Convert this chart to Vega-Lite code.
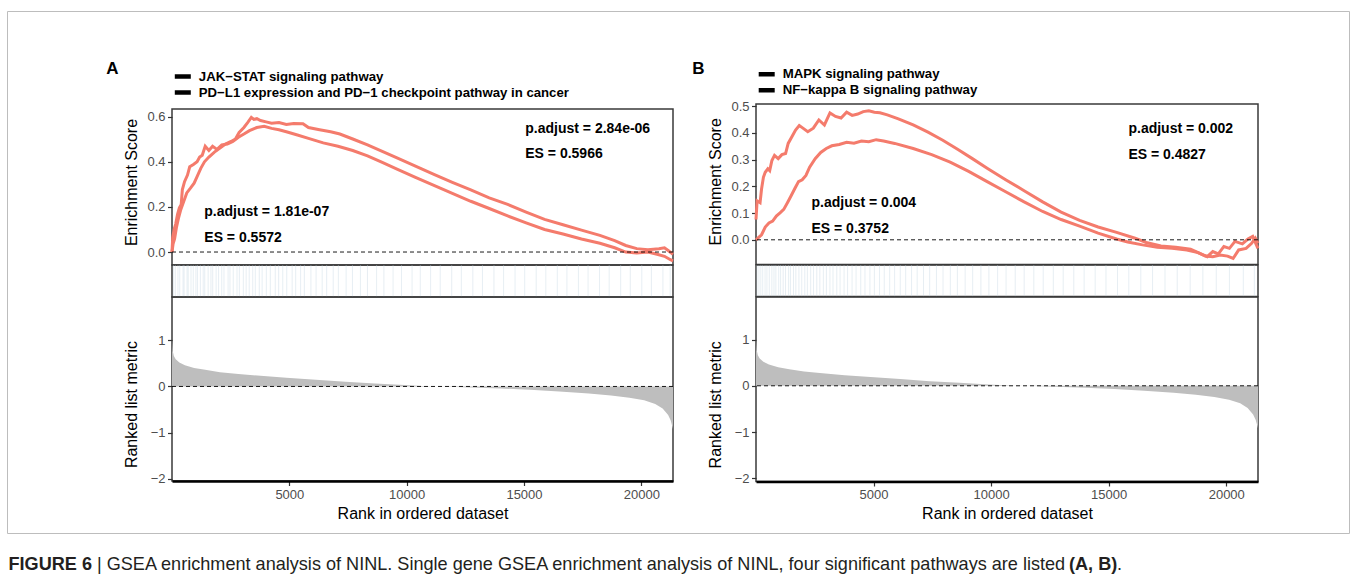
{
  "$schema": "https://vega.github.io/schema/vega-lite/v6.json",
  "background": "white",
  "padding": {"left": 6, "top": 10, "right": 6, "bottom": 4},
  "config": {
    "font": "Liberation Sans",
    "view": {"stroke": "#3a3a3a", "strokeWidth": 1.5},
    "axis": {
      "grid": false,
      "domain": false,
      "labelFont": "Liberation Sans",
      "labelFontSize": 13,
      "labelColor": "#4D4D4D",
      "labelOverlap": false,
      "titleFont": "Liberation Sans",
      "titleFontSize": 16,
      "titleFontWeight": "normal",
      "titleColor": "#000000",
      "tickColor": "#333333",
      "tickSize": 4.5,
      "tickWidth": 1.2,
      "labelPadding": 2.5
    },
    "legend": {
      "orient": "none",
      "title": null,
      "symbolType": "M-1.7,0H1.7",
      "symbolSize": 100,
      "symbolStrokeWidth": 4.5,
      "symbolStrokeColor": "#000000",
      "labelFont": "Liberation Sans",
      "labelFontSize": 13.2,
      "labelFontWeight": "bold",
      "labelColor": "#000000",
      "labelOffset": 9,
      "labelLimit": 600,
      "clipHeight": 15.5,
      "rowPadding": 0,
      "padding": 0
    }
  },
  "datasets": {
    "esA": [
      {"rank":0,"es":0,"set":"JAK−STAT signaling pathway"},{"rank":47,"es":0.036,"set":"JAK−STAT signaling pathway"},{"rank":110,"es":0.058,"set":"JAK−STAT signaling pathway"},{"rank":189,"es":0.109,"set":"JAK−STAT signaling pathway"},{"rank":283,"es":0.153,"set":"JAK−STAT signaling pathway"},{"rank":377,"es":0.189,"set":"JAK−STAT signaling pathway"},{"rank":503,"es":0.225,"set":"JAK−STAT signaling pathway"},{"rank":629,"es":0.262,"set":"JAK−STAT signaling pathway"},{"rank":786,"es":0.283,"set":"JAK−STAT signaling pathway"},{"rank":943,"es":0.305,"set":"JAK−STAT signaling pathway"},{"rank":1069,"es":0.334,"set":"JAK−STAT signaling pathway"},{"rank":1226,"es":0.371,"set":"JAK−STAT signaling pathway"},{"rank":1383,"es":0.4,"set":"JAK−STAT signaling pathway"},{"rank":1572,"es":0.421,"set":"JAK−STAT signaling pathway"},{"rank":1808,"es":0.443,"set":"JAK−STAT signaling pathway"},{"rank":2044,"es":0.461,"set":"JAK−STAT signaling pathway"},{"rank":2279,"es":0.479,"set":"JAK−STAT signaling pathway"},{"rank":2515,"es":0.49,"set":"JAK−STAT signaling pathway"},{"rank":2704,"es":0.501,"set":"JAK−STAT signaling pathway"},{"rank":2861,"es":0.53,"set":"JAK−STAT signaling pathway"},{"rank":3065,"es":0.552,"set":"JAK−STAT signaling pathway"},{"rank":3223,"es":0.574,"set":"JAK−STAT signaling pathway"},{"rank":3380,"es":0.597,"set":"JAK−STAT signaling pathway"},{"rank":3490,"es":0.588,"set":"JAK−STAT signaling pathway"},{"rank":3616,"es":0.591,"set":"JAK−STAT signaling pathway"},{"rank":3773,"es":0.583,"set":"JAK−STAT signaling pathway"},{"rank":4009,"es":0.577,"set":"JAK−STAT signaling pathway"},{"rank":4244,"es":0.571,"set":"JAK−STAT signaling pathway"},{"rank":4559,"es":0.574,"set":"JAK−STAT signaling pathway"},{"rank":4873,"es":0.565,"set":"JAK−STAT signaling pathway"},{"rank":5188,"es":0.57,"set":"JAK−STAT signaling pathway"},{"rank":5581,"es":0.569,"set":"JAK−STAT signaling pathway"},{"rank":5816,"es":0.552,"set":"JAK−STAT signaling pathway"},{"rank":6288,"es":0.542,"set":"JAK−STAT signaling pathway"},{"rank":6760,"es":0.533,"set":"JAK−STAT signaling pathway"},{"rank":7153,"es":0.523,"set":"JAK−STAT signaling pathway"},{"rank":7703,"es":0.501,"set":"JAK−STAT signaling pathway"},{"rank":8332,"es":0.475,"set":"JAK−STAT signaling pathway"},{"rank":8960,"es":0.446,"set":"JAK−STAT signaling pathway"},{"rank":9589,"es":0.417,"set":"JAK−STAT signaling pathway"},{"rank":10375,"es":0.381,"set":"JAK−STAT signaling pathway"},{"rank":11161,"es":0.344,"set":"JAK−STAT signaling pathway"},{"rank":11947,"es":0.309,"set":"JAK−STAT signaling pathway"},{"rank":12733,"es":0.275,"set":"JAK−STAT signaling pathway"},{"rank":13519,"es":0.24,"set":"JAK−STAT signaling pathway"},{"rank":14305,"es":0.211,"set":"JAK−STAT signaling pathway"},{"rank":15091,"es":0.177,"set":"JAK−STAT signaling pathway"},{"rank":15877,"es":0.145,"set":"JAK−STAT signaling pathway"},{"rank":16663,"es":0.121,"set":"JAK−STAT signaling pathway"},{"rank":17449,"es":0.097,"set":"JAK−STAT signaling pathway"},{"rank":18235,"es":0.074,"set":"JAK−STAT signaling pathway"},{"rank":18864,"es":0.051,"set":"JAK−STAT signaling pathway"},{"rank":19336,"es":0.029,"set":"JAK−STAT signaling pathway"},{"rank":19807,"es":0.015,"set":"JAK−STAT signaling pathway"},{"rank":20279,"es":0.01,"set":"JAK−STAT signaling pathway"},{"rank":20750,"es":0.015,"set":"JAK−STAT signaling pathway"},{"rank":20986,"es":0.019,"set":"JAK−STAT signaling pathway"},{"rank":21143,"es":0.007,"set":"JAK−STAT signaling pathway"},{"rank":21350,"es":-0.01,"set":"JAK−STAT signaling pathway"},
      {"rank":0,"es":0,"set":"PD−L1 expression and PD−1 checkpoint pathway in cancer"},{"rank":31,"es":0.065,"set":"PD−L1 expression and PD−1 checkpoint pathway in cancer"},{"rank":94,"es":0.102,"set":"PD−L1 expression and PD−1 checkpoint pathway in cancer"},{"rank":157,"es":0.124,"set":"PD−L1 expression and PD−1 checkpoint pathway in cancer"},{"rank":236,"es":0.167,"set":"PD−L1 expression and PD−1 checkpoint pathway in cancer"},{"rank":314,"es":0.196,"set":"PD−L1 expression and PD−1 checkpoint pathway in cancer"},{"rank":393,"es":0.211,"set":"PD−L1 expression and PD−1 checkpoint pathway in cancer"},{"rank":440,"es":0.276,"set":"PD−L1 expression and PD−1 checkpoint pathway in cancer"},{"rank":534,"es":0.312,"set":"PD−L1 expression and PD−1 checkpoint pathway in cancer"},{"rank":660,"es":0.341,"set":"PD−L1 expression and PD−1 checkpoint pathway in cancer"},{"rank":755,"es":0.378,"set":"PD−L1 expression and PD−1 checkpoint pathway in cancer"},{"rank":912,"es":0.388,"set":"PD−L1 expression and PD−1 checkpoint pathway in cancer"},{"rank":1069,"es":0.4,"set":"PD−L1 expression and PD−1 checkpoint pathway in cancer"},{"rank":1179,"es":0.421,"set":"PD−L1 expression and PD−1 checkpoint pathway in cancer"},{"rank":1289,"es":0.429,"set":"PD−L1 expression and PD−1 checkpoint pathway in cancer"},{"rank":1415,"es":0.469,"set":"PD−L1 expression and PD−1 checkpoint pathway in cancer"},{"rank":1572,"es":0.45,"set":"PD−L1 expression and PD−1 checkpoint pathway in cancer"},{"rank":1729,"es":0.469,"set":"PD−L1 expression and PD−1 checkpoint pathway in cancer"},{"rank":1918,"es":0.455,"set":"PD−L1 expression and PD−1 checkpoint pathway in cancer"},{"rank":2122,"es":0.475,"set":"PD−L1 expression and PD−1 checkpoint pathway in cancer"},{"rank":2358,"es":0.479,"set":"PD−L1 expression and PD−1 checkpoint pathway in cancer"},{"rank":2594,"es":0.49,"set":"PD−L1 expression and PD−1 checkpoint pathway in cancer"},{"rank":2830,"es":0.509,"set":"PD−L1 expression and PD−1 checkpoint pathway in cancer"},{"rank":3065,"es":0.523,"set":"PD−L1 expression and PD−1 checkpoint pathway in cancer"},{"rank":3301,"es":0.538,"set":"PD−L1 expression and PD−1 checkpoint pathway in cancer"},{"rank":3616,"es":0.552,"set":"PD−L1 expression and PD−1 checkpoint pathway in cancer"},{"rank":3930,"es":0.557,"set":"PD−L1 expression and PD−1 checkpoint pathway in cancer"},{"rank":4244,"es":0.548,"set":"PD−L1 expression and PD−1 checkpoint pathway in cancer"},{"rank":4559,"es":0.542,"set":"PD−L1 expression and PD−1 checkpoint pathway in cancer"},{"rank":4873,"es":0.533,"set":"PD−L1 expression and PD−1 checkpoint pathway in cancer"},{"rank":5345,"es":0.519,"set":"PD−L1 expression and PD−1 checkpoint pathway in cancer"},{"rank":5816,"es":0.504,"set":"PD−L1 expression and PD−1 checkpoint pathway in cancer"},{"rank":6445,"es":0.484,"set":"PD−L1 expression and PD−1 checkpoint pathway in cancer"},{"rank":7074,"es":0.469,"set":"PD−L1 expression and PD−1 checkpoint pathway in cancer"},{"rank":7703,"es":0.45,"set":"PD−L1 expression and PD−1 checkpoint pathway in cancer"},{"rank":8332,"es":0.426,"set":"PD−L1 expression and PD−1 checkpoint pathway in cancer"},{"rank":8960,"es":0.397,"set":"PD−L1 expression and PD−1 checkpoint pathway in cancer"},{"rank":9589,"es":0.368,"set":"PD−L1 expression and PD−1 checkpoint pathway in cancer"},{"rank":10375,"es":0.331,"set":"PD−L1 expression and PD−1 checkpoint pathway in cancer"},{"rank":11161,"es":0.295,"set":"PD−L1 expression and PD−1 checkpoint pathway in cancer"},{"rank":11947,"es":0.26,"set":"PD−L1 expression and PD−1 checkpoint pathway in cancer"},{"rank":12733,"es":0.225,"set":"PD−L1 expression and PD−1 checkpoint pathway in cancer"},{"rank":13519,"es":0.193,"set":"PD−L1 expression and PD−1 checkpoint pathway in cancer"},{"rank":14305,"es":0.16,"set":"PD−L1 expression and PD−1 checkpoint pathway in cancer"},{"rank":15091,"es":0.129,"set":"PD−L1 expression and PD−1 checkpoint pathway in cancer"},{"rank":15877,"es":0.1,"set":"PD−L1 expression and PD−1 checkpoint pathway in cancer"},{"rank":16663,"es":0.08,"set":"PD−L1 expression and PD−1 checkpoint pathway in cancer"},{"rank":17449,"es":0.058,"set":"PD−L1 expression and PD−1 checkpoint pathway in cancer"},{"rank":18235,"es":0.039,"set":"PD−L1 expression and PD−1 checkpoint pathway in cancer"},{"rank":18864,"es":0.019,"set":"PD−L1 expression and PD−1 checkpoint pathway in cancer"},{"rank":19336,"es":0.0,"set":"PD−L1 expression and PD−1 checkpoint pathway in cancer"},{"rank":19807,"es":-0.004,"set":"PD−L1 expression and PD−1 checkpoint pathway in cancer"},{"rank":20279,"es":0.0,"set":"PD−L1 expression and PD−1 checkpoint pathway in cancer"},{"rank":20672,"es":-0.01,"set":"PD−L1 expression and PD−1 checkpoint pathway in cancer"},{"rank":20986,"es":-0.019,"set":"PD−L1 expression and PD−1 checkpoint pathway in cancer"},{"rank":21222,"es":-0.033,"set":"PD−L1 expression and PD−1 checkpoint pathway in cancer"},{"rank":21350,"es":-0.039,"set":"PD−L1 expression and PD−1 checkpoint pathway in cancer"}
    ],
    "esB": [
      {"rank":0,"es":0.076,"set":"MAPK signaling pathway"},{"rank":47,"es":0.146,"set":"MAPK signaling pathway"},{"rank":173,"es":0.139,"set":"MAPK signaling pathway"},{"rank":236,"es":0.19,"set":"MAPK signaling pathway"},{"rank":315,"es":0.234,"set":"MAPK signaling pathway"},{"rank":393,"es":0.253,"set":"MAPK signaling pathway"},{"rank":503,"es":0.266,"set":"MAPK signaling pathway"},{"rank":582,"es":0.259,"set":"MAPK signaling pathway"},{"rank":676,"es":0.297,"set":"MAPK signaling pathway"},{"rank":787,"es":0.316,"set":"MAPK signaling pathway"},{"rank":944,"es":0.304,"set":"MAPK signaling pathway"},{"rank":1101,"es":0.319,"set":"MAPK signaling pathway"},{"rank":1258,"es":0.323,"set":"MAPK signaling pathway"},{"rank":1369,"es":0.361,"set":"MAPK signaling pathway"},{"rank":1526,"es":0.386,"set":"MAPK signaling pathway"},{"rank":1683,"es":0.411,"set":"MAPK signaling pathway"},{"rank":1840,"es":0.428,"set":"MAPK signaling pathway"},{"rank":1966,"es":0.42,"set":"MAPK signaling pathway"},{"rank":2202,"es":0.405,"set":"MAPK signaling pathway"},{"rank":2438,"es":0.418,"set":"MAPK signaling pathway"},{"rank":2674,"es":0.449,"set":"MAPK signaling pathway"},{"rank":2910,"es":0.43,"set":"MAPK signaling pathway"},{"rank":3146,"es":0.475,"set":"MAPK signaling pathway"},{"rank":3382,"es":0.462,"set":"MAPK signaling pathway"},{"rank":3618,"es":0.456,"set":"MAPK signaling pathway"},{"rank":3854,"es":0.478,"set":"MAPK signaling pathway"},{"rank":4090,"es":0.466,"set":"MAPK signaling pathway"},{"rank":4326,"es":0.471,"set":"MAPK signaling pathway"},{"rank":4562,"es":0.48,"set":"MAPK signaling pathway"},{"rank":4798,"es":0.483,"set":"MAPK signaling pathway"},{"rank":5034,"es":0.478,"set":"MAPK signaling pathway"},{"rank":5270,"es":0.476,"set":"MAPK signaling pathway"},{"rank":5584,"es":0.468,"set":"MAPK signaling pathway"},{"rank":6056,"es":0.453,"set":"MAPK signaling pathway"},{"rank":6685,"es":0.43,"set":"MAPK signaling pathway"},{"rank":7315,"es":0.403,"set":"MAPK signaling pathway"},{"rank":7944,"es":0.373,"set":"MAPK signaling pathway"},{"rank":8573,"es":0.339,"set":"MAPK signaling pathway"},{"rank":9202,"es":0.304,"set":"MAPK signaling pathway"},{"rank":9831,"es":0.268,"set":"MAPK signaling pathway"},{"rank":10618,"es":0.225,"set":"MAPK signaling pathway"},{"rank":11404,"es":0.184,"set":"MAPK signaling pathway"},{"rank":12191,"es":0.142,"set":"MAPK signaling pathway"},{"rank":12977,"es":0.104,"set":"MAPK signaling pathway"},{"rank":13764,"es":0.073,"set":"MAPK signaling pathway"},{"rank":14550,"es":0.048,"set":"MAPK signaling pathway"},{"rank":15337,"es":0.028,"set":"MAPK signaling pathway"},{"rank":16123,"es":0.006,"set":"MAPK signaling pathway"},{"rank":16595,"es":-0.01,"set":"MAPK signaling pathway"},{"rank":17224,"es":-0.023,"set":"MAPK signaling pathway"},{"rank":17854,"es":-0.028,"set":"MAPK signaling pathway"},{"rank":18483,"es":-0.035,"set":"MAPK signaling pathway"},{"rank":18876,"es":-0.051,"set":"MAPK signaling pathway"},{"rank":19191,"es":-0.063,"set":"MAPK signaling pathway"},{"rank":19427,"es":-0.044,"set":"MAPK signaling pathway"},{"rank":19663,"es":-0.053,"set":"MAPK signaling pathway"},{"rank":19899,"es":-0.025,"set":"MAPK signaling pathway"},{"rank":20135,"es":-0.032,"set":"MAPK signaling pathway"},{"rank":20370,"es":-0.006,"set":"MAPK signaling pathway"},{"rank":20685,"es":-0.015,"set":"MAPK signaling pathway"},{"rank":20921,"es":0.003,"set":"MAPK signaling pathway"},{"rank":21126,"es":0.013,"set":"MAPK signaling pathway"},{"rank":21346,"es":-0.032,"set":"MAPK signaling pathway"},
      {"rank":0,"es":0,"set":"NF−kappa B signaling pathway"},{"rank":79,"es":0.006,"set":"NF−kappa B signaling pathway"},{"rank":236,"es":0.019,"set":"NF−kappa B signaling pathway"},{"rank":393,"es":0.048,"set":"NF−kappa B signaling pathway"},{"rank":551,"es":0.063,"set":"NF−kappa B signaling pathway"},{"rank":708,"es":0.07,"set":"NF−kappa B signaling pathway"},{"rank":865,"es":0.089,"set":"NF−kappa B signaling pathway"},{"rank":1022,"es":0.101,"set":"NF−kappa B signaling pathway"},{"rank":1180,"es":0.114,"set":"NF−kappa B signaling pathway"},{"rank":1337,"es":0.139,"set":"NF−kappa B signaling pathway"},{"rank":1494,"es":0.165,"set":"NF−kappa B signaling pathway"},{"rank":1652,"es":0.192,"set":"NF−kappa B signaling pathway"},{"rank":1809,"es":0.218,"set":"NF−kappa B signaling pathway"},{"rank":1966,"es":0.225,"set":"NF−kappa B signaling pathway"},{"rank":2124,"es":0.241,"set":"NF−kappa B signaling pathway"},{"rank":2281,"es":0.272,"set":"NF−kappa B signaling pathway"},{"rank":2517,"es":0.304,"set":"NF−kappa B signaling pathway"},{"rank":2753,"es":0.327,"set":"NF−kappa B signaling pathway"},{"rank":2989,"es":0.342,"set":"NF−kappa B signaling pathway"},{"rank":3225,"es":0.352,"set":"NF−kappa B signaling pathway"},{"rank":3539,"es":0.357,"set":"NF−kappa B signaling pathway"},{"rank":3854,"es":0.365,"set":"NF−kappa B signaling pathway"},{"rank":4168,"es":0.362,"set":"NF−kappa B signaling pathway"},{"rank":4483,"es":0.37,"set":"NF−kappa B signaling pathway"},{"rank":4798,"es":0.367,"set":"NF−kappa B signaling pathway"},{"rank":5112,"es":0.375,"set":"NF−kappa B signaling pathway"},{"rank":5427,"es":0.37,"set":"NF−kappa B signaling pathway"},{"rank":5899,"es":0.361,"set":"NF−kappa B signaling pathway"},{"rank":6685,"es":0.342,"set":"NF−kappa B signaling pathway"},{"rank":7472,"es":0.319,"set":"NF−kappa B signaling pathway"},{"rank":8258,"es":0.291,"set":"NF−kappa B signaling pathway"},{"rank":9045,"es":0.256,"set":"NF−kappa B signaling pathway"},{"rank":9831,"es":0.218,"set":"NF−kappa B signaling pathway"},{"rank":10618,"es":0.18,"set":"NF−kappa B signaling pathway"},{"rank":11404,"es":0.142,"set":"NF−kappa B signaling pathway"},{"rank":12191,"es":0.106,"set":"NF−kappa B signaling pathway"},{"rank":12977,"es":0.076,"set":"NF−kappa B signaling pathway"},{"rank":13764,"es":0.051,"set":"NF−kappa B signaling pathway"},{"rank":14550,"es":0.025,"set":"NF−kappa B signaling pathway"},{"rank":15337,"es":0.003,"set":"NF−kappa B signaling pathway"},{"rank":15809,"es":-0.008,"set":"NF−kappa B signaling pathway"},{"rank":16438,"es":-0.019,"set":"NF−kappa B signaling pathway"},{"rank":17067,"es":-0.028,"set":"NF−kappa B signaling pathway"},{"rank":17696,"es":-0.032,"set":"NF−kappa B signaling pathway"},{"rank":18325,"es":-0.038,"set":"NF−kappa B signaling pathway"},{"rank":18797,"es":-0.048,"set":"NF−kappa B signaling pathway"},{"rank":19112,"es":-0.061,"set":"NF−kappa B signaling pathway"},{"rank":19427,"es":-0.063,"set":"NF−kappa B signaling pathway"},{"rank":19742,"es":-0.057,"set":"NF−kappa B signaling pathway"},{"rank":20056,"es":-0.061,"set":"NF−kappa B signaling pathway"},{"rank":20292,"es":-0.07,"set":"NF−kappa B signaling pathway"},{"rank":20528,"es":-0.038,"set":"NF−kappa B signaling pathway"},{"rank":20843,"es":-0.032,"set":"NF−kappa B signaling pathway"},{"rank":21079,"es":-0.013,"set":"NF−kappa B signaling pathway"},{"rank":21236,"es":0.006,"set":"NF−kappa B signaling pathway"},{"rank":21346,"es":-0.013,"set":"NF−kappa B signaling pathway"}
    ],
    "annA": [
      {"rank":15054,"es":0.547,"label":"p.adjust = 2.84e-06"},
      {"rank":15054,"es":0.434,"label":"ES = 0.5966"},
      {"rank":1376,"es":0.178,"label":"p.adjust = 1.81e-07"},
      {"rank":1376,"es":0.062,"label":"ES = 0.5572"}
    ],
    "annB": [
      {"rank":15840,"es":0.415,"label":"p.adjust = 0.002"},
      {"rank":15840,"es":0.318,"label":"ES = 0.4827"},
      {"rank":2359,"es":0.139,"label":"p.adjust = 0.004"},
      {"rank":2359,"es":0.041,"label":"ES = 0.3752"}
    ],
    "hitsA": [
      {"rank":60},{"rank":140},{"rank":255},{"rank":330},{"rank":470},{"rank":515},{"rank":640},{"rank":690},{"rank":810},{"rank":905},{"rank":1020},{"rank":1085},{"rank":1210},{"rank":1330},{"rank":1395},{"rank":1540},{"rank":1660},{"rank":1735},{"rank":1880},{"rank":1985},{"rank":2120},{"rank":2215},{"rank":2390},{"rank":2470},{"rank":2610},{"rank":2770},{"rank":2870},{"rank":3040},{"rank":3160},{"rank":3290},{"rank":3440},{"rank":3550},{"rank":3720},{"rank":3840},{"rank":4020},{"rank":4190},{"rank":4400},{"rank":4545},{"rank":4720},{"rank":4890},{"rank":5120},{"rank":5270},{"rank":5480},{"rank":5640},{"rank":5920},{"rank":6140},{"rank":6400},{"rank":6590},{"rank":6870},{"rank":7090},{"rank":7420},{"rank":7690},{"rank":8030},{"rank":8330},{"rank":8720},{"rank":9030},{"rank":9420},{"rank":9780},{"rank":10230},{"rank":10580},{"rank":11020},{"rank":11430},{"rank":11920},{"rank":12330},{"rank":12820},{"rank":13230},{"rank":13720},{"rank":14130},{"rank":14620},{"rank":15030},{"rank":15520},{"rank":15930},{"rank":16420},{"rank":16830},{"rank":17320},{"rank":17730},{"rank":18220},{"rank":18630},{"rank":19120},{"rank":19530},{"rank":20020},{"rank":20430},{"rank":20920},{"rank":21230}
    ],
    "hitsB": [
      {"rank":40},{"rank":125},{"rank":205},{"rank":285},{"rank":385},{"rank":465},{"rank":565},{"rank":675},{"rank":765},{"rank":845},{"rank":965},{"rank":1045},{"rank":1155},{"rank":1255},{"rank":1385},{"rank":1465},{"rank":1595},{"rank":1695},{"rank":1825},{"rank":1945},{"rank":2075},{"rank":2185},{"rank":2325},{"rank":2445},{"rank":2585},{"rank":2715},{"rank":2865},{"rank":2995},{"rank":3145},{"rank":3275},{"rank":3435},{"rank":3575},{"rank":3745},{"rank":3895},{"rank":4085},{"rank":4255},{"rank":4455},{"rank":4635},{"rank":4845},{"rank":5035},{"rank":5255},{"rank":5455},{"rank":5685},{"rank":5895},{"rank":6135},{"rank":6365},{"rank":6615},{"rank":6855},{"rank":7125},{"rank":7385},{"rank":7675},{"rank":7955},{"rank":8265},{"rank":8565},{"rank":8895},{"rank":9215},{"rank":9565},{"rank":9905},{"rank":10275},{"rank":10635},{"rank":11025},{"rank":11405},{"rank":11815},{"rank":12215},{"rank":12645},{"rank":13065},{"rank":13515},{"rank":13955},{"rank":14425},{"rank":14885},{"rank":15375},{"rank":15855},{"rank":16365},{"rank":16865},{"rank":17395},{"rank":17915},{"rank":18465},{"rank":19005},{"rank":19575},{"rank":20135},{"rank":20725},{"rank":21195}
    ],
    "ranked": [
      {"rank":0,"metric":1.0},{"rank":31,"metric":0.77},{"rank":79,"metric":0.66},{"rank":157,"metric":0.59},{"rank":314,"metric":0.52},{"rank":550,"metric":0.46},{"rank":943,"metric":0.4},{"rank":1415,"metric":0.36},{"rank":2044,"metric":0.31},{"rank":2830,"metric":0.27},{"rank":3773,"metric":0.23},{"rank":4873,"metric":0.19},{"rank":6131,"metric":0.145},{"rank":7388,"metric":0.1},{"rank":8646,"metric":0.065},{"rank":9904,"metric":0.03},{"rank":10847,"metric":0.007},{"rank":11790,"metric":-0.007},{"rank":12733,"metric":-0.02},{"rank":13991,"metric":-0.045},{"rank":15248,"metric":-0.07},{"rank":16506,"metric":-0.11},{"rank":17764,"metric":-0.15},{"rank":18707,"metric":-0.195},{"rank":19493,"metric":-0.245},{"rank":20122,"metric":-0.3},{"rank":20593,"metric":-0.38},{"rank":20908,"metric":-0.48},{"rank":21143,"metric":-0.62},{"rank":21253,"metric":-0.74},{"rank":21350,"metric":-0.92}
    ]
  },
  "bounds": "flush",
  "spacing": 545.5,
  "resolve": {"scale": {"stroke": "independent"}, "legend": {"stroke": "independent"}},
  "vconcat": [
    {
      "bounds": "flush",
      "spacing": 0,
      "resolve": {"scale": {"stroke": "independent"}, "legend": {"stroke": "independent"}},
      "hconcat": [
        {
          "bounds": "flush",
          "spacing": 0,
          "resolve": {"scale": {"stroke": "independent"}, "legend": {"stroke": "independent"}},
          "hconcat": [
            {"width": 164.2, "height": 1, "view": {"stroke": null}, "data": {"values": []}, "mark": "point"},
            {
              "bounds": "flush",
              "spacing": 0,
              "resolve": {"scale": {"stroke": "independent"}, "legend": {"stroke": "independent"}},
              "vconcat": [
                {"width": 501, "height": 97.5, "view": {"stroke": null}, "data": {"values": []}, "mark": "point"},
                {
                  "width": 501,
                  "height": 156,
                  "layer": [
                    {
                      "data": {"name": "esA"},
                      "mark": {"type": "line", "strokeWidth": 3, "color": "#F47B6C"},
                      "encoding": {
                        "x": {"field": "rank", "type": "quantitative", "scale": {"domain": [0, 21350], "nice": false, "zero": false}, "axis": null},
                        "y": {"field": "es", "type": "quantitative", "scale": {"domain": [-0.0575, 0.634], "nice": false, "zero": false}, "axis": {"values": [0, 0.2, 0.4, 0.6], "tickCount": 4, "format": ".1f", "title": "Enrichment Score", "titleX": -33, "titleY": 73}},
                        "detail": {"field": "set", "type": "nominal"}
                      }
                    },
                    {
                      "data": {"values": []},
                      "mark": {"type": "line", "strokeWidth": 4.5},
                      "encoding": {
                        "x": {"field": "rank", "type": "quantitative", "axis": null},
                        "y": {"field": "es", "type": "quantitative", "axis": {"values": [0, 0.2, 0.4, 0.6], "tickCount": 4, "format": ".1f", "title": "Enrichment Score", "titleX": -33, "titleY": 73}},
                        "stroke": {
                          "field": "set", "type": "nominal",
                          "scale": {"domain": ["JAK−STAT signaling pathway", "PD−L1 expression and PD−1 checkpoint pathway in cancer"], "range": ["#000000", "#000000"]},
                          "legend": {"orient": "none", "legendX": 2.8, "legendY": -40.25, "title": null}
                        }
                      }
                    },
                    {
                      "data": {"values": [{}]},
                      "mark": {"type": "rule", "strokeDash": [4, 3], "color": "#000000", "strokeWidth": 0.9},
                      "encoding": {"y": {"datum": 0}}
                    },
                    {
                      "data": {"name": "annA"},
                      "mark": {"type": "text", "align": "left", "baseline": "middle", "fontSize": 14, "fontWeight": "bold", "color": "#000000"},
                      "encoding": {
                        "x": {"field": "rank", "type": "quantitative", "axis": null},
                        "y": {"field": "es", "type": "quantitative", "axis": {"values": [0, 0.2, 0.4, 0.6], "tickCount": 4, "format": ".1f", "title": "Enrichment Score", "titleX": -33, "titleY": 73}},
                        "text": {"field": "label"}
                      }
                    },
                    {
                      "data": {"values": [{"rank": -2800, "es": 0.79, "label": "A"}]},
                      "mark": {"type": "text", "align": "left", "baseline": "alphabetic", "fontSize": 17, "fontWeight": "bold", "color": "#000000"},
                      "encoding": {
                        "x": {"field": "rank", "type": "quantitative", "axis": null},
                        "y": {"field": "es", "type": "quantitative", "axis": {"values": [0, 0.2, 0.4, 0.6], "tickCount": 4, "format": ".1f", "title": "Enrichment Score", "titleX": -33, "titleY": 73}},
                        "text": {"field": "label"}
                      }
                    }
                  ]
                },
                {
                  "width": 501,
                  "height": 32,
                  "data": {"name": "hitsA"},
                  "mark": {"type": "rule", "color": "#BFD3E0", "strokeWidth": 1, "opacity": 0.38},
                  "encoding": {"x": {"field": "rank", "type": "quantitative", "scale": {"domain": [0, 21350], "nice": false, "zero": false}, "axis": null}}
                },
                {
                  "width": 501,
                  "height": 184,
                  "layer": [
                    {
                      "data": {"name": "ranked"},
                      "mark": {"type": "area", "color": "#BEBEBE"},
                      "encoding": {
                        "x": {"field": "rank", "type": "quantitative", "scale": {"domain": [0, 21350], "nice": false, "zero": false}, "axis": {"values": [5000, 10000, 15000, 20000], "format": "d", "title": "Rank in ordered dataset", "domain": true, "domainColor": "#000000", "domainWidth": 2.5, "titleY": 24}},
                        "y": {"field": "metric", "type": "quantitative", "stack": null, "scale": {"domain": [-2.05, 1.94], "nice": false, "zero": false}, "axis": {"values": [-2, -1, 0, 1], "format": "d", "title": "Ranked list metric", "titleX": -33, "titleY": 107}}
                      }
                    },
                    {
                      "data": {"values": [{}]},
                      "mark": {"type": "rule", "strokeDash": [4, 3], "color": "#000000", "strokeWidth": 0.9},
                      "encoding": {"y": {"datum": 0}}
                    }
                  ]
                }
              ]
            },
            {"width": 583.6, "height": 1, "view": {"stroke": null}, "data": {"values": []}, "mark": "point"},
            {
              "bounds": "flush",
              "spacing": 0,
              "resolve": {"scale": {"stroke": "independent"}, "legend": {"stroke": "independent"}},
              "vconcat": [
                {"width": 502, "height": 92.2, "view": {"stroke": null}, "data": {"values": []}, "mark": "point"},
                {
                  "width": 502,
                  "height": 160.5,
                  "layer": [
                    {
                      "data": {"name": "esB"},
                      "mark": {"type": "line", "strokeWidth": 3, "color": "#F47B6C"},
                      "encoding": {
                        "x": {"field": "rank", "type": "quantitative", "scale": {"domain": [0, 21350], "nice": false, "zero": false}, "axis": null},
                        "y": {"field": "es", "type": "quantitative", "scale": {"domain": [-0.0925, 0.5086], "nice": false, "zero": false}, "axis": {"values": [0, 0.1, 0.2, 0.3, 0.4, 0.5], "tickCount": 6, "format": ".1f", "title": "Enrichment Score", "titleX": -33, "titleY": 77.3}},
                        "detail": {"field": "set", "type": "nominal"}
                      }
                    },
                    {
                      "data": {"values": []},
                      "mark": {"type": "line", "strokeWidth": 4.5},
                      "encoding": {
                        "x": {"field": "rank", "type": "quantitative", "axis": null},
                        "y": {"field": "es", "type": "quantitative", "axis": {"values": [0, 0.1, 0.2, 0.3, 0.4, 0.5], "tickCount": 6, "format": ".1f", "title": "Enrichment Score", "titleX": -33, "titleY": 77.3}},
                        "stroke": {
                          "field": "set", "type": "nominal",
                          "scale": {"domain": ["MAPK signaling pathway", "NF−kappa B signaling pathway"], "range": ["#000000", "#000000"]},
                          "legend": {"orient": "none", "legendX": 2.7, "legendY": -37.45, "title": null}
                        }
                      }
                    },
                    {
                      "data": {"values": [{}]},
                      "mark": {"type": "rule", "strokeDash": [4, 3], "color": "#000000", "strokeWidth": 0.9},
                      "encoding": {"y": {"datum": 0}}
                    },
                    {
                      "data": {"name": "annB"},
                      "mark": {"type": "text", "align": "left", "baseline": "middle", "fontSize": 14, "fontWeight": "bold", "color": "#000000"},
                      "encoding": {
                        "x": {"field": "rank", "type": "quantitative", "axis": null},
                        "y": {"field": "es", "type": "quantitative", "axis": {"values": [0, 0.1, 0.2, 0.3, 0.4, 0.5], "tickCount": 6, "format": ".1f", "title": "Enrichment Score", "titleX": -33, "titleY": 77.3}},
                        "text": {"field": "label"}
                      }
                    },
                    {
                      "data": {"values": [{"rank": -2716, "es": 0.6217, "label": "B"}]},
                      "mark": {"type": "text", "align": "left", "baseline": "alphabetic", "fontSize": 17, "fontWeight": "bold", "color": "#000000"},
                      "encoding": {
                        "x": {"field": "rank", "type": "quantitative", "axis": null},
                        "y": {"field": "es", "type": "quantitative", "axis": {"values": [0, 0.1, 0.2, 0.3, 0.4, 0.5], "tickCount": 6, "format": ".1f", "title": "Enrichment Score", "titleX": -33, "titleY": 77.3}},
                        "text": {"field": "label"}
                      }
                    }
                  ]
                },
                {
                  "width": 502,
                  "height": 31.5,
                  "data": {"name": "hitsB"},
                  "mark": {"type": "rule", "color": "#BFD3E0", "strokeWidth": 1, "opacity": 0.38},
                  "encoding": {"x": {"field": "rank", "type": "quantitative", "scale": {"domain": [0, 21350], "nice": false, "zero": false}, "axis": null}}
                },
                {
                  "width": 502,
                  "height": 184.5,
                  "layer": [
                    {
                      "data": {"name": "ranked"},
                      "mark": {"type": "area", "color": "#BEBEBE"},
                      "encoding": {
                        "x": {"field": "rank", "type": "quantitative", "scale": {"domain": [0, 21350], "nice": false, "zero": false}, "axis": {"values": [5000, 10000, 15000, 20000], "format": "d", "title": "Rank in ordered dataset", "domain": true, "domainColor": "#000000", "domainWidth": 2.5, "titleY": 24}},
                        "y": {"field": "metric", "type": "quantitative", "stack": null, "scale": {"domain": [-2.07, 1.92], "nice": false, "zero": false}, "axis": {"values": [-2, -1, 0, 1], "format": "d", "title": "Ranked list metric", "titleX": -33, "titleY": 107.3}}
                      }
                    },
                    {
                      "data": {"values": [{}]},
                      "mark": {"type": "rule", "strokeDash": [4, 3], "color": "#000000", "strokeWidth": 0.9},
                      "encoding": {"y": {"datum": 0}}
                    }
                  ]
                }
              ]
            }
          ]
        },
        {
          "width": 1342,
          "height": 522,
          "view": {"stroke": "#BDBDBD", "strokeWidth": 1},
          "data": {"values": []},
          "mark": "point"
        }
      ]
    },
    {
      "width": 1342,
      "height": 16,
      "view": {"stroke": null},
      "layer": [
        {"data": {"values": [{"t": "FIGURE 6"}]}, "mark": {"type": "text", "align": "left", "baseline": "middle", "fontSize": 18.1, "fontWeight": "bold", "color": "#231F20"}, "encoding": {"text": {"field": "t"}, "x": {"value": 1.5}}},
        {"data": {"values": [{"t": "| GSEA enrichment analysis of NINL. Single gene GSEA enrichment analysis of NINL, four significant pathways are listed"}]}, "mark": {"type": "text", "align": "left", "baseline": "middle", "fontSize": 18.1, "fontWeight": "normal", "color": "#231F20"}, "encoding": {"text": {"field": "t"}, "x": {"value": 90}}},
        {"data": {"values": [{"t": "(A, B)"}]}, "mark": {"type": "text", "align": "left", "baseline": "middle", "fontSize": 18.1, "fontWeight": "bold", "color": "#231F20"}, "encoding": {"text": {"field": "t"}, "x": {"value": 1062}}},
        {"data": {"values": [{"t": "."}]}, "mark": {"type": "text", "align": "left", "baseline": "middle", "fontSize": 18.1, "fontWeight": "normal", "color": "#231F20"}, "encoding": {"text": {"field": "t"}, "x": {"value": 1110}}}
      ]
    }
  ]
}
